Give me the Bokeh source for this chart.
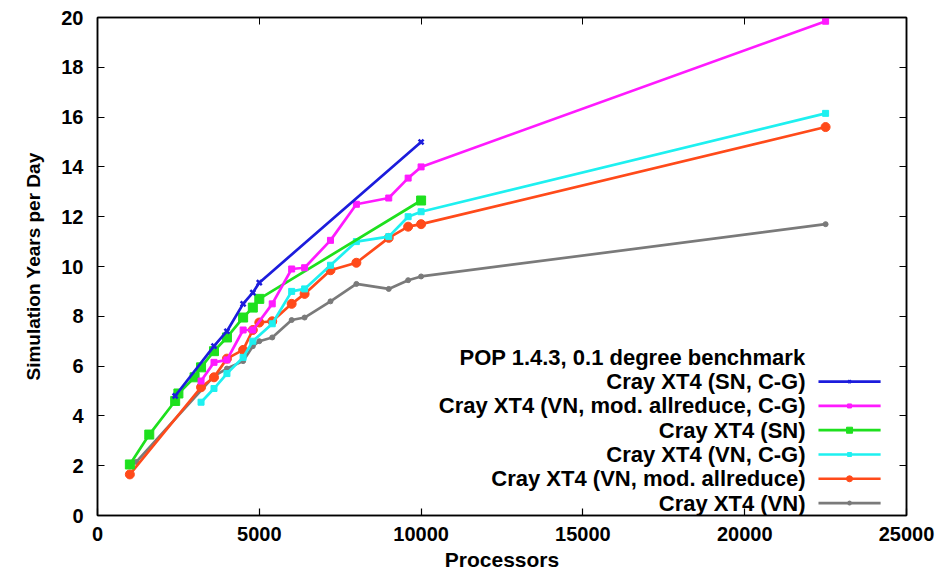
from bokeh.plotting import figure
from bokeh.models import Range1d, LinearAxis, FixedTicker, Label
from bokeh.embed import file_html
from bokeh.resources import INLINE

# ---- data ----
sn_cg_x = [2400, 3600, 4000, 4500, 4800, 5000, 10000]
sn_cg_y = [4.8, 6.8, 7.4, 8.5, 8.95, 9.35, 15.0]

vn_mod_cg_x = [3200, 3600, 4000, 4500, 4800, 5400, 6000, 6400, 7200, 8000, 9000, 9600, 10000, 22500]
vn_mod_cg_y = [5.4, 6.15, 6.25, 7.45, 7.45, 8.5, 9.9, 9.95, 11.05, 12.5, 12.75, 13.55, 14.0, 19.85]

sn_x = [1000, 1600, 2400, 2500, 3000, 3200, 3600, 4000, 4500, 4800, 5000, 10000]
sn_y = [2.05, 3.25, 4.6, 4.9, 5.55, 5.95, 6.6, 7.15, 7.95, 8.35, 8.7, 12.65]

vn_cg_x = [3200, 3600, 4000, 4500, 4800, 5400, 6000, 6400, 7200, 8000, 9000, 9600, 10000, 22500]
vn_cg_y = [4.55, 5.1, 5.7, 6.35, 7.0, 7.7, 9.0, 9.1, 10.05, 11.0, 11.2, 12.0, 12.2, 16.15]

vn_mod_x = [1000, 3200, 3600, 4000, 4500, 4800, 5000, 5400, 6000, 6400, 7200, 8000, 9000, 9600, 10000, 22500]
vn_mod_y = [1.65, 5.15, 5.55, 6.3, 6.65, 7.45, 7.75, 7.8, 8.5, 8.9, 9.85, 10.15, 11.15, 11.6, 11.7, 15.6]

vn_x = [1200, 3600, 4000, 4500, 4800, 5000, 5400, 6000, 6400, 7200, 8000, 9000, 9600, 10000, 22500]
vn_y = [2.15, 5.6, 5.9, 6.2, 6.8, 7.0, 7.15, 7.85, 7.95, 8.6, 9.3, 9.1, 9.45, 9.6, 11.7]

series_names = [
    "Cray XT4 (SN, C-G)",
    "Cray XT4 (VN, mod. allreduce, C-G)",
    "Cray XT4 (SN)",
    "Cray XT4 (VN, C-G)",
    "Cray XT4 (VN, mod. allreduce)",
    "Cray XT4 (VN)",
]
legend_title = "POP 1.4.3, 0.1 degree benchmark"
x_ticks = [0, 5000, 10000, 15000, 20000, 25000]
y_ticks = [0, 2, 4, 6, 8, 10, 12, 14, 16, 18, 20]

FONT = "Liberation Sans"

p = figure(frame_width=809, frame_height=498, output_backend="svg", toolbar_location=None,
           x_range=Range1d(0, 25000), y_range=Range1d(0, 20),
           min_border_left=97, min_border_right=30, min_border_top=17, min_border_bottom=53,
           background_fill_color="white", border_fill_color="white")
p.xgrid.visible = False
p.ygrid.visible = False
p.outline_line_color = "black"
p.outline_line_width = 1.5

for ax in (p.xaxis[0], p.yaxis[0]):
    ax.major_label_text_font = FONT
    ax.major_label_text_font_style = "bold"
    ax.major_label_text_font_size = "20px"
    ax.major_label_text_color = "black"
    ax.axis_label_text_font = FONT
    ax.axis_label_text_font_style = "bold"
    ax.axis_label_text_color = "black"
    ax.major_tick_in = 7
    ax.major_tick_out = 0
    ax.minor_tick_line_color = None
    ax.axis_line_width = 1.5
    ax.major_tick_line_width = 1.2

p.xaxis.ticker = FixedTicker(ticks=x_ticks)
p.yaxis.ticker = FixedTicker(ticks=y_ticks)
p.xaxis.axis_label = "Processors"
p.xaxis.axis_label_text_font_size = "21px"
p.xaxis.axis_label_standoff = 4
p.xaxis.major_label_standoff = 11
p.yaxis.axis_label = "Simulation Years per Day"
p.yaxis.axis_label_text_font_size = "19px"
p.yaxis.axis_label_standoff = 14
p.yaxis.major_label_standoff = 14

# mirrored axes (ticks only, no labels)
ra = LinearAxis(ticker=FixedTicker(ticks=y_ticks),
                major_label_overrides={t: "" for t in y_ticks},
                major_tick_in=7, major_tick_out=0, minor_tick_line_color=None,
                axis_line_width=1.5, major_label_standoff=0)
ta = LinearAxis(ticker=FixedTicker(ticks=x_ticks),
                major_label_overrides={t: "" for t in x_ticks},
                major_tick_in=7, major_tick_out=0, minor_tick_line_color=None,
                axis_line_width=1.5, major_label_standoff=0)
p.add_layout(ra, "right")
p.add_layout(ta, "above")

styles = [
    dict(color="#1c1cdc", marker="x", size=7),
    dict(color="#ff1aff", marker="square", size=6),
    dict(color="#1ee01e", marker="square", size=9),
    dict(color="#1ef0f0", marker="square", size=6),
    dict(color="#ff4a1a", marker="circle", size=9),
    dict(color="#7a7a7a", marker="circle", size=5),
]
data = [(sn_cg_x, sn_cg_y), (vn_mod_cg_x, vn_mod_cg_y), (sn_x, sn_y),
        (vn_cg_x, vn_cg_y), (vn_mod_x, vn_mod_y), (vn_x, vn_y)]

order = [5, 4, 3, 2, 1, 0]
for i in order:
    xs, ys = data[i]
    st = styles[i]
    p.line(xs, ys, line_color=st["color"], line_width=2.7)
    p.scatter(xs, ys, marker=st["marker"], size=st["size"], line_color=st["color"],
              fill_color=st["color"], line_width=2.5 if st["marker"] == "x" else 1)

# custom legend (text right-aligned, sample line at right)
lx_text = 21880
lx0, lx1 = 22280, 24200
y_title = 6.35
step = 0.975
p.add_layout(Label(x=lx_text, y=y_title, text=legend_title, text_align="right",
                   text_baseline="middle", text_font=FONT, text_font_style="bold",
                   text_font_size="22px", text_color="black"))
for k, name in enumerate(series_names):
    yy = y_title - step * (k + 1)
    st = styles[k]
    p.add_layout(Label(x=lx_text, y=yy, text=name, text_align="right",
                       text_baseline="middle", text_font=FONT, text_font_style="bold",
                       text_font_size="22px", text_color="black"))
    p.line([lx0, lx1], [yy, yy], line_color=st["color"], line_width=2.7)
    p.scatter([(lx0 + lx1) / 2], [yy], marker=st["marker"], size=max(st["size"] - 3, 4),
              line_color=st["color"], fill_color=st["color"],
              line_width=2 if st["marker"] == "x" else 1)

open("out.html", "w").write(file_html(p, INLINE))
